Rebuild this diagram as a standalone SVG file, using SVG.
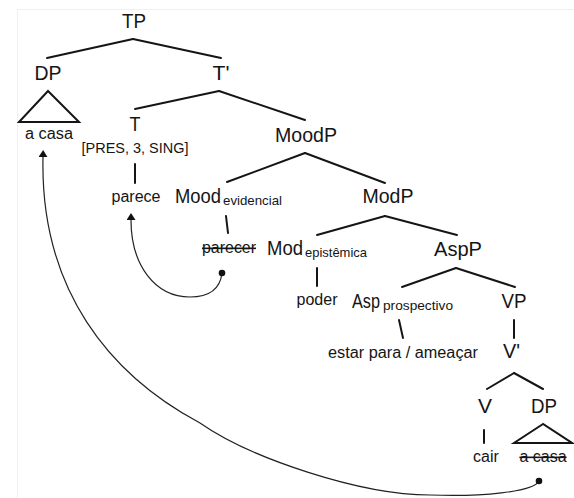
<svg xmlns="http://www.w3.org/2000/svg" width="574" height="498" viewBox="0 0 574 498">
<style>
text{font-family:"Liberation Sans",Arial,sans-serif;fill:#151515}
.b{font-size:21px}
.s{font-size:16px}
.sub{font-size:13px}
.m{text-anchor:middle}
.e{stroke:#151515;stroke-width:2;fill:none;stroke-linecap:round}
.tri{stroke:#151515;stroke-width:2;fill:none;stroke-linejoin:miter}
.mv{stroke:#222;stroke-width:1.2;fill:none}
.strike{text-decoration:line-through}
</style>
<defs>
<marker id="ah" markerUnits="userSpaceOnUse" markerWidth="8" markerHeight="10" refX="0" refY="4.5" orient="auto">
<path d="M0,0 L7,4.5 L0,9 z" fill="#111"/>
</marker>
</defs>
<rect width="574" height="498" fill="#fff"/>
<path d="M17.5,498 V9.5 H574" stroke="#f0f0f0" stroke-width="1" fill="none"/>

<g id="connectors">
<line class="e" x1="133" y1="39" x2="47" y2="58"/>
<line class="e" x1="133" y1="39" x2="221" y2="58"/>
<line class="e" x1="219" y1="91" x2="135" y2="109"/>
<line class="e" x1="219" y1="91" x2="305" y2="120"/>
<line class="e" x1="135" y1="164" x2="135" y2="183"/>
<line class="e" x1="305" y1="153" x2="227" y2="182"/>
<line class="e" x1="305" y1="153" x2="385" y2="183"/>
<line class="e" x1="226" y1="216" x2="228" y2="233"/>
<line class="e" x1="385" y1="216" x2="317" y2="235"/>
<line class="e" x1="385" y1="216" x2="457" y2="235"/>
<line class="e" x1="317" y1="268" x2="317" y2="286"/>
<line class="e" x1="456" y1="268" x2="402" y2="287"/>
<line class="e" x1="456" y1="268" x2="515" y2="287"/>
<line class="e" x1="399" y1="320" x2="403" y2="338"/>
<line class="e" x1="514" y1="320" x2="514" y2="338"/>
<line class="e" x1="514" y1="373" x2="487" y2="389"/>
<line class="e" x1="514" y1="373" x2="543" y2="389"/>
<line class="e" x1="484" y1="430" x2="484" y2="443"/>
<path class="mv" d="M222,273 C220,290 208,297 190,297 C155,297 131,265 131,220" marker-end="url(#ah)"/>
<circle cx="222" cy="273" r="3.3" fill="#111"/>
<path class="mv" d="M539,481 C534,492 480,497 430,495 C360,495 250,458 200,423 C110,375 40,290 43,157" marker-end="url(#ah)"/>
<circle cx="539" cy="481" r="3.3" fill="#111"/>
</g>

<g id="TP"><text class="b m" x="134" y="28" textLength="24" lengthAdjust="spacingAndGlyphs">TP</text></g>
<g id="DP-top">
<text class="b m" x="48" y="80" textLength="27" lengthAdjust="spacingAndGlyphs">DP</text>
<polygon class="tri" points="48,91 19,122 79,122"/>
<text class="s m" x="49" y="139" textLength="48" lengthAdjust="spacingAndGlyphs">a casa</text>
</g>
<g id="Tbar"><text class="b m" x="221" y="80" textLength="17" lengthAdjust="spacingAndGlyphs">T'</text></g>
<g id="T">
<text class="b m" x="135" y="131" textLength="11" lengthAdjust="spacingAndGlyphs">T</text>
<text class="s m" x="135" y="153" style="font-size:15px" textLength="107" lengthAdjust="spacingAndGlyphs">[PRES, 3, SING]</text>
</g>
<g id="parece"><text class="s m" x="136" y="202" textLength="49" lengthAdjust="spacingAndGlyphs">parece</text></g>
<g id="MoodP"><text class="b m" x="306" y="142" textLength="62" lengthAdjust="spacingAndGlyphs">MoodP</text></g>
<g id="Mood-evidencial">
<text class="b" x="175" y="203" textLength="46" lengthAdjust="spacingAndGlyphs">Mood</text>
<text class="sub" x="223" y="205" textLength="59" lengthAdjust="spacingAndGlyphs">evidencial</text>
</g>
<g id="ModP"><text class="b m" x="388" y="203" textLength="51" lengthAdjust="spacingAndGlyphs">ModP</text></g>
<g id="parecer"><text class="s m strike" x="229" y="253" textLength="54" lengthAdjust="spacingAndGlyphs">parecer</text></g>
<g id="Mod-epistemica">
<text class="b" x="267" y="255" textLength="36" lengthAdjust="spacingAndGlyphs">Mod</text>
<text class="sub" x="305" y="257" textLength="62" lengthAdjust="spacingAndGlyphs">epistêmica</text>
</g>
<g id="AspP"><text class="b m" x="458" y="256" textLength="48" lengthAdjust="spacingAndGlyphs">AspP</text></g>
<g id="poder"><text class="s m" x="317" y="305" textLength="41" lengthAdjust="spacingAndGlyphs">poder</text></g>
<g id="Asp-prospectivo">
<text class="b" x="352" y="308" textLength="28" lengthAdjust="spacingAndGlyphs">Asp</text>
<text class="sub" x="383" y="310" textLength="70" lengthAdjust="spacingAndGlyphs">prospectivo</text>
</g>
<g id="VP"><text class="b m" x="514" y="308" textLength="25" lengthAdjust="spacingAndGlyphs">VP</text></g>
<g id="estar"><text class="s m" x="403" y="358" textLength="150" lengthAdjust="spacingAndGlyphs">estar para / ameaçar</text></g>
<g id="Vbar"><text class="b" x="503" y="358" textLength="17" lengthAdjust="spacingAndGlyphs">V'</text></g>
<g id="V"><text class="b m" x="485" y="413" textLength="14" lengthAdjust="spacingAndGlyphs">V</text></g>
<g id="DP-low">
<text class="b m" x="544" y="413" textLength="26" lengthAdjust="spacingAndGlyphs">DP</text>
<polygon class="tri" points="543,424 514,443 572,443"/>
<text class="s m strike" x="543" y="462">a casa</text>
</g>
<g id="cair"><text class="s m" x="486" y="462">cair</text></g>
</svg>
